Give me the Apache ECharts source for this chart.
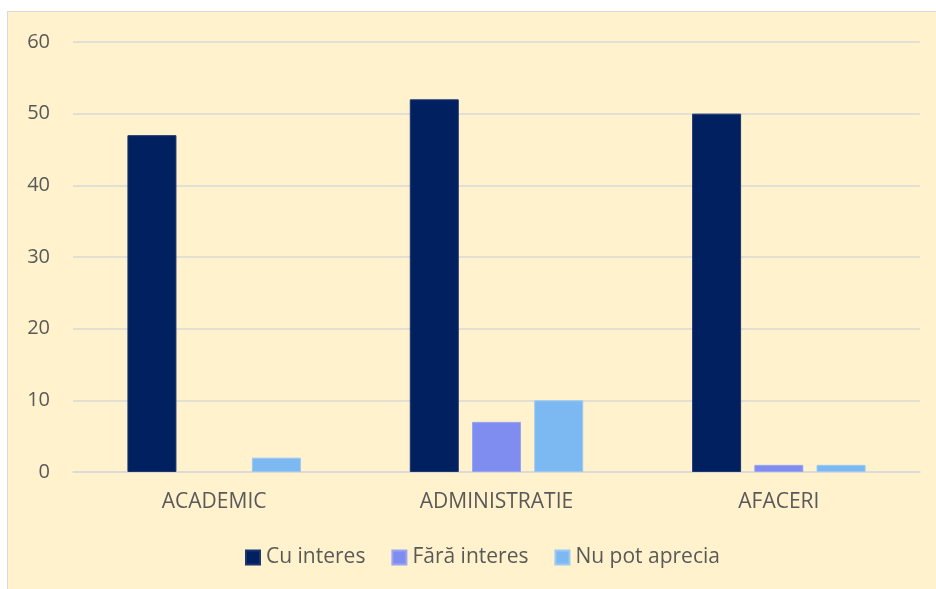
<!DOCTYPE html>
<html><head><meta charset="utf-8">
<script src="https://cdn.jsdelivr.net/npm/echarts@6/dist/echarts.min.js"></script>
<style>
html,body{margin:0;padding:0;background:#fff;width:936px;height:589px;overflow:hidden;}
#wrap{position:absolute;left:7px;top:11px;width:929px;height:578px;background:#FFF2CC;border-top:1.5px solid #d9d9d9;border-left:1.5px solid #d9d9d9;box-sizing:border-box;}
#c{position:absolute;left:0;top:0;width:100%;height:100%;}
</style></head>
<body><div id="wrap"><div id="c"></div></div>
<script>
const categories = ['ACADEMIC', 'ADMINISTRATIE', 'AFACERI'];
const seriesNames = ['Cu interes', 'Fără interes', 'Nu pot aprecia'];
const cuInteres = [47, 52, 50];
const faraInteres = [0, 7, 1];
const nuPotAprecia = [2, 10, 1];
const yTicks = [0, 10, 20, 30, 40, 50, 60];

const colors = ['#002060', '#7F8CF0', '#7CB9F2'];
const borders = ['#1a3570', '#9aa5f2', '#9cc9f3'];
const font = '"Open Sans", "Noto Sans", sans-serif';
const chart = echarts.init(document.getElementById('c'));
const data = [cuInteres, faraInteres, nuPotAprecia];
chart.setOption({
  animation: false,
  backgroundColor: 'transparent',
  grid: {left: 65, right: 16, top: 30, bottom: 117, containLabel: false},
  legend: {
    top: 530, left: 232, itemWidth: 14, itemHeight: 14, itemGap: 26,
    icon: 'rect',
    textStyle: {color: '#595959', fontSize: 21, fontFamily: font, padding: [0, 0, 0, 1]},
    data: seriesNames
  },
  xAxis: {
    type: 'category', data: categories,
    axisLine: {lineStyle: {color: '#d9d9d9', width: 1.5}},
    axisTick: {show: false},
    axisLabel: {color: '#595959', fontSize: 21, fontFamily: font, margin: 20}
  },
  yAxis: {
    type: 'value', min: yTicks[0], max: yTicks[yTicks.length-1], interval: 10,
    axisLine: {show: false}, axisTick: {show: false},
    splitLine: {lineStyle: {color: '#d9d9d9', width: 1.5}},
    axisLabel: {color: '#595959', fontSize: 20, fontFamily: font, margin: 23}
  },
  series: seriesNames.map((n, i) => ({
    name: n, type: 'bar', barWidth: 49, barGap: '27%',
    data: data[i].map(v => ({value: v, itemStyle: {borderWidth: v === 0 ? 0 : 1}})),
    itemStyle: {color: colors[i], borderColor: borders[i], borderWidth: 1}
  }))
});
</script></body></html>
